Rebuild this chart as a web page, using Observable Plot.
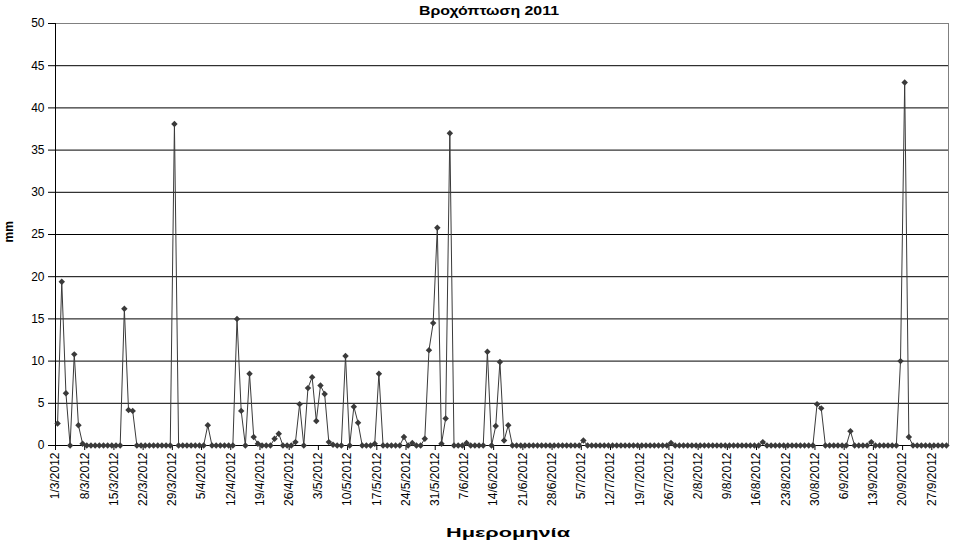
<!DOCTYPE html>
<html>
<head>
<meta charset="utf-8">
<script src="https://cdn.jsdelivr.net/npm/d3@7"></script>
<script src="https://cdn.jsdelivr.net/npm/@observablehq/plot@0.6"></script>
<style>
  html, body { margin: 0; padding: 0; background: #ffffff; }
  #chart { width: 959px; height: 545px; overflow: hidden; }
</style>
</head>
<body>
<div id="chart"></div>
<script>
const titleText = "Βροχόπτωση 2011";
const yLabelText = "mm";
const xLabelText = "Ημερομηνία";

const startDate = "2012-03-01";
const endDate = "2012-10-01";

// Daily rainfall (mm), 1/3/2012 .. 30/9/2012, one row per week
const rain = [
  2.6, 19.4, 6.2, 0, 10.8, 2.4, 0.2,
  0, 0, 0, 0, 0, 0, 0,
  0, 0, 16.2, 4.2, 4.1, 0, 0,
  0, 0, 0, 0, 0, 0, 0,
  38.1, 0, 0, 0, 0, 0, 0,
  0, 2.4, 0, 0, 0, 0, 0,
  0, 15.0, 4.1, 0, 8.5, 1.0, 0.2,
  0, 0, 0, 0.8, 1.4, 0, 0,
  0, 0.4, 4.9, 0, 6.8, 8.1, 2.9,
  7.1, 6.1, 0.4, 0.1, 0, 0, 10.6,
  0, 4.6, 2.7, 0, 0, 0, 0.2,
  8.5, 0, 0, 0, 0, 0, 1.0,
  0, 0.3, 0, 0, 0.8, 11.3, 14.5,
  25.8, 0.2, 3.2, 37.0, 0, 0, 0,
  0.3, 0, 0, 0, 0, 11.1, 0,
  2.3, 9.9, 0.6, 2.4, 0, 0, 0,
  0, 0, 0, 0, 0, 0, 0,
  0, 0, 0, 0, 0, 0, 0,
  0.6, 0, 0, 0, 0, 0, 0,
  0, 0, 0, 0, 0, 0, 0,
  0, 0, 0, 0, 0, 0, 0,
  0.3, 0, 0, 0, 0, 0, 0,
  0, 0, 0, 0, 0, 0, 0,
  0, 0, 0, 0, 0, 0, 0,
  0, 0.4, 0, 0, 0, 0, 0,
  0, 0, 0, 0, 0, 0, 0,
  4.9, 4.4, 0, 0, 0, 0, 0,
  0, 1.7, 0, 0, 0, 0, 0.4,
  0, 0, 0, 0, 0, 0, 10.0,
  43.0, 1.0, 0, 0, 0, 0, 0,
  0, 0, 0, 0
];

const xTickLabels = [
  "1/3/2012", "8/3/2012", "15/3/2012", "22/3/2012", "29/3/2012",
  "5/4/2012", "12/4/2012", "19/4/2012", "26/4/2012",
  "3/5/2012", "10/5/2012", "17/5/2012", "24/5/2012", "31/5/2012",
  "7/6/2012", "14/6/2012", "21/6/2012", "28/6/2012",
  "5/7/2012", "12/7/2012", "19/7/2012", "26/7/2012",
  "2/8/2012", "9/8/2012", "16/8/2012", "23/8/2012", "30/8/2012",
  "6/9/2012", "13/9/2012", "20/9/2012", "27/9/2012"
];

const yTicks = [0, 5, 10, 15, 20, 25, 30, 35, 40, 45, 50];

// ---- build tables ----
const start = new Date(startDate + "T00:00:00Z");
const end = new Date(endDate + "T00:00:00Z");
const data = rain.map((v, i) => ({ date: d3.utcDay.offset(start, i), value: v }));
const parseLabel = (s) => { const [d, m, y] = s.split("/").map(Number); return new Date(Date.UTC(y, m - 1, d)); };
const tickDates = xTickLabels.map(parseLabel);
const labelByTime = new Map(tickDates.map((d, i) => [+d, xTickLabels[i]]));
const midDay = (d) => d3.utcHour.offset(d.date, 12);

const ink = "#3a3a3a";

const svg = Plot.plot({
  width: 959,
  height: 545,
  marginLeft: 55,
  marginRight: 11,
  marginTop: 23,
  marginBottom: 100,
  style: { fontFamily: "'Liberation Sans', Arial, sans-serif", fontSize: "12px", color: "#000", background: "#fff", overflow: "visible" },
  x: {
    type: "utc",
    domain: [start, end],
    ticks: tickDates,
    tickFormat: (d) => labelByTime.get(+d) ?? "",
    tickRotate: -90,
    tickSize: 5,
    tickPadding: 2,
    label: null
  },
  y: {
    domain: [0, 50],
    ticks: yTicks,
    tickSize: 7,
    tickPadding: 4,
    label: null
  },
  marks: [
    Plot.ruleY(yTicks.filter((v) => v > 0 && v < 50), { stroke: "#000", strokeWidth: 1 }),
    Plot.ruleY([50], { stroke: "#808080", strokeWidth: 1 }),
    Plot.ruleX([end], { stroke: "#808080", strokeWidth: 1 }),
    Plot.ruleX([start], { stroke: "#000", strokeWidth: 1 }),
    Plot.ruleY([0], { stroke: "#000", strokeWidth: 1 }),
    Plot.line(data, { x: midDay, y: "value", stroke: ink, strokeWidth: 1 }),
    Plot.dot(data, { x: midDay, y: "value", symbol: "diamond2", r: 2.9, fill: ink, stroke: "none" }),
    Plot.text([titleText], { text: (d) => d, frameAnchor: "top", dx: -13, dy: -18, fontWeight: "bold", fontSize: 13, fill: "#000" }),
    Plot.text([xLabelText], { text: (d) => d, frameAnchor: "bottom", dx: 6, dy: 91, fontWeight: "bold", fontSize: 13, fill: "#000" }),
    Plot.text([yLabelText], { text: (d) => d, frameAnchor: "left", dx: -46.5, dy: 8, rotate: -90, fontWeight: "bold", fontSize: 12, fill: "#000" })
  ]
});

svg.querySelectorAll("text").forEach((t) => {
  if (t.textContent === titleText) { t.setAttribute("textLength", "140"); t.setAttribute("lengthAdjust", "spacingAndGlyphs"); }
  if (t.textContent === xLabelText) { t.setAttribute("textLength", "124"); t.setAttribute("lengthAdjust", "spacingAndGlyphs"); }
});

document.getElementById("chart").appendChild(svg);
</script>
</body>
</html>
